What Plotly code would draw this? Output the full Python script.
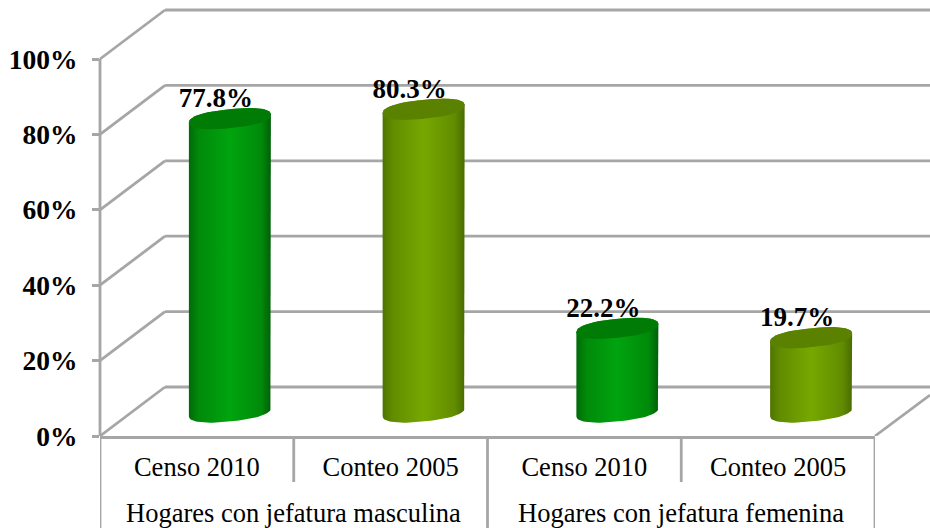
import numpy as np
import plotly.graph_objects as go

group_labels = ["Hogares con jefatura masculina", "Hogares con jefatura femenina"]
categories = ["Censo 2010", "Conteo 2005", "Censo 2010", "Conteo 2005"]
values = [77.8, 80.3, 22.2, 19.7]
value_labels = ["77.8%", "80.3%", "22.2%", "19.7%"]
y_ticks = [0, 20, 40, 60, 80, 100]

W, H = 930, 528
L, R, B = 100, 875, 436
PXY = 3.77
PXX = (R - L) / 4
GREY = "#a6a6a6"
FONT = "Liberation Serif"

side = [[[0, "#006a08"], [0.12, "#008a0a"], [0.5, "#00a40e"], [0.88, "#008a0a"], [1, "#006008"]],
        [[0, "#4f7400"], [0.12, "#618c00"], [0.5, "#76a800"], [0.88, "#618c00"], [1, "#4a6c00"]]]
top_col = ["#007c06", "#5a8200"]

HALF = 41 / PXX
SHIFT = 33 / PXX
LIFT = 24 / PXY
MINOR = 9.5 / PXY
TILT = 4.0 / PXY
DX, DY = 65, 49 / PXY
ROUND = 0.85

fig = go.Figure()


def ellipse(cx, cy, t):
    c = np.sign(np.cos(t)) * np.abs(np.cos(t)) ** ROUND
    s = np.sign(np.sin(t)) * np.abs(np.sin(t)) ** ROUND
    return cx + HALF * c, cy + MINOR * s + TILT * c


for i, v in enumerate(values):
    cx = i + SHIFT
    high = LIFT + v
    xt, yt = ellipse(cx, high, np.linspace(np.pi, 0, 40))
    xb, yb = ellipse(cx, LIFT, np.linspace(0, -np.pi, 40))
    fig.add_trace(go.Scatter(
        x=np.r_[xt, xb, xt[0]], y=np.r_[yt, yb, yt[0]],
        mode="lines", line=dict(width=0), fill="toself", cliponaxis=False,
        fillgradient=dict(type="horizontal", colorscale=side[i % 2]), hoverinfo="skip"))
    xe, ye = ellipse(cx, high, np.linspace(0, 2 * np.pi, 80))
    fig.add_trace(go.Scatter(
        x=xe, y=ye, mode="lines", line=dict(width=0),
        fill="toself", fillcolor=top_col[i % 2], cliponaxis=False, hoverinfo="skip"))

fig.add_trace(go.Scatter(
    x=[i + SHIFT - 14 / PXX for i in range(4)],
    y=[LIFT + v + 18 / PXY for v in values],
    mode="text", text=value_labels, textposition="middle center",
    cliponaxis=False, hoverinfo="skip",
    textfont=dict(family=FONT, size=27, color="#000000", weight="bold")))


def px(p):
    return (p - L) / (R - L)


def py(p):
    return (B - p) / B


shapes = []
line = dict(color=GREY, width=2.8)
for tv in y_ticks:
    shapes.append(dict(type="line", xref="paper", yref="y", x0=px(L), y0=tv,
                       x1=px(L + DX), y1=tv + DY, line=line, layer="below"))
    shapes.append(dict(type="line", xref="paper", yref="y", x0=px(L + DX), y0=tv + DY,
                       x1=px(W), y1=tv + DY, line=line, layer="below"))
shapes.append(dict(type="line", xref="paper", yref="y", x0=px(R), y0=0,
                   x1=px(W), y1=41 / PXY, line=line, layer="below"))
shapes.append(dict(type="line", xref="paper", yref="y", x0=0, y0=0, x1=0, y1=max(y_ticks),
                   line=line, layer="below"))
for k, bound in enumerate(np.arange(-0.5, 3.6, 1.0)):
    bottom = H if k % 2 == 0 else 482
    shapes.append(dict(type="line", xref="x", yref="paper", x0=bound, x1=bound,
                       y0=0, y1=py(bottom), line=line, layer="below"))

annotations = [
    dict(x=c, y=py(513), xref="x", yref="paper", text=t, showarrow=False, xanchor="center",
         yanchor="middle", font=dict(family=FONT, size=26.5, color="#000000"))
    for c, t in zip([0.5, 2.5], group_labels)
]

fig.update_layout(
    width=W, height=H, showlegend=False, plot_bgcolor="white", paper_bgcolor="white",
    margin=dict(l=L, r=W - R, t=0, b=H - B, pad=0),
    shapes=shapes, annotations=annotations,
    xaxis=dict(range=[-0.5, 3.5], tickvals=list(range(4)), ticktext=categories, showgrid=False,
               showline=True, linecolor=GREY, linewidth=2.8, zeroline=False, ticks="",
               ticklabelstandoff=5,
               tickfont=dict(family=FONT, size=26.5, color="#000000")),
    yaxis=dict(range=[0, B / PXY], tickvals=y_ticks, ticktext=[f"{t}%" for t in y_ticks],
               showgrid=False, showline=False, zeroline=False,
               ticks="outside", ticklen=7, tickcolor=GREY, tickwidth=2.8, ticklabelstandoff=9,
               tickfont=dict(family=FONT, size=27.5, color="#000000", weight="bold")),
)
fig.write_html("out.html", config={"displayModeBar": False},
               post_script="document.body.style.margin='0';")
